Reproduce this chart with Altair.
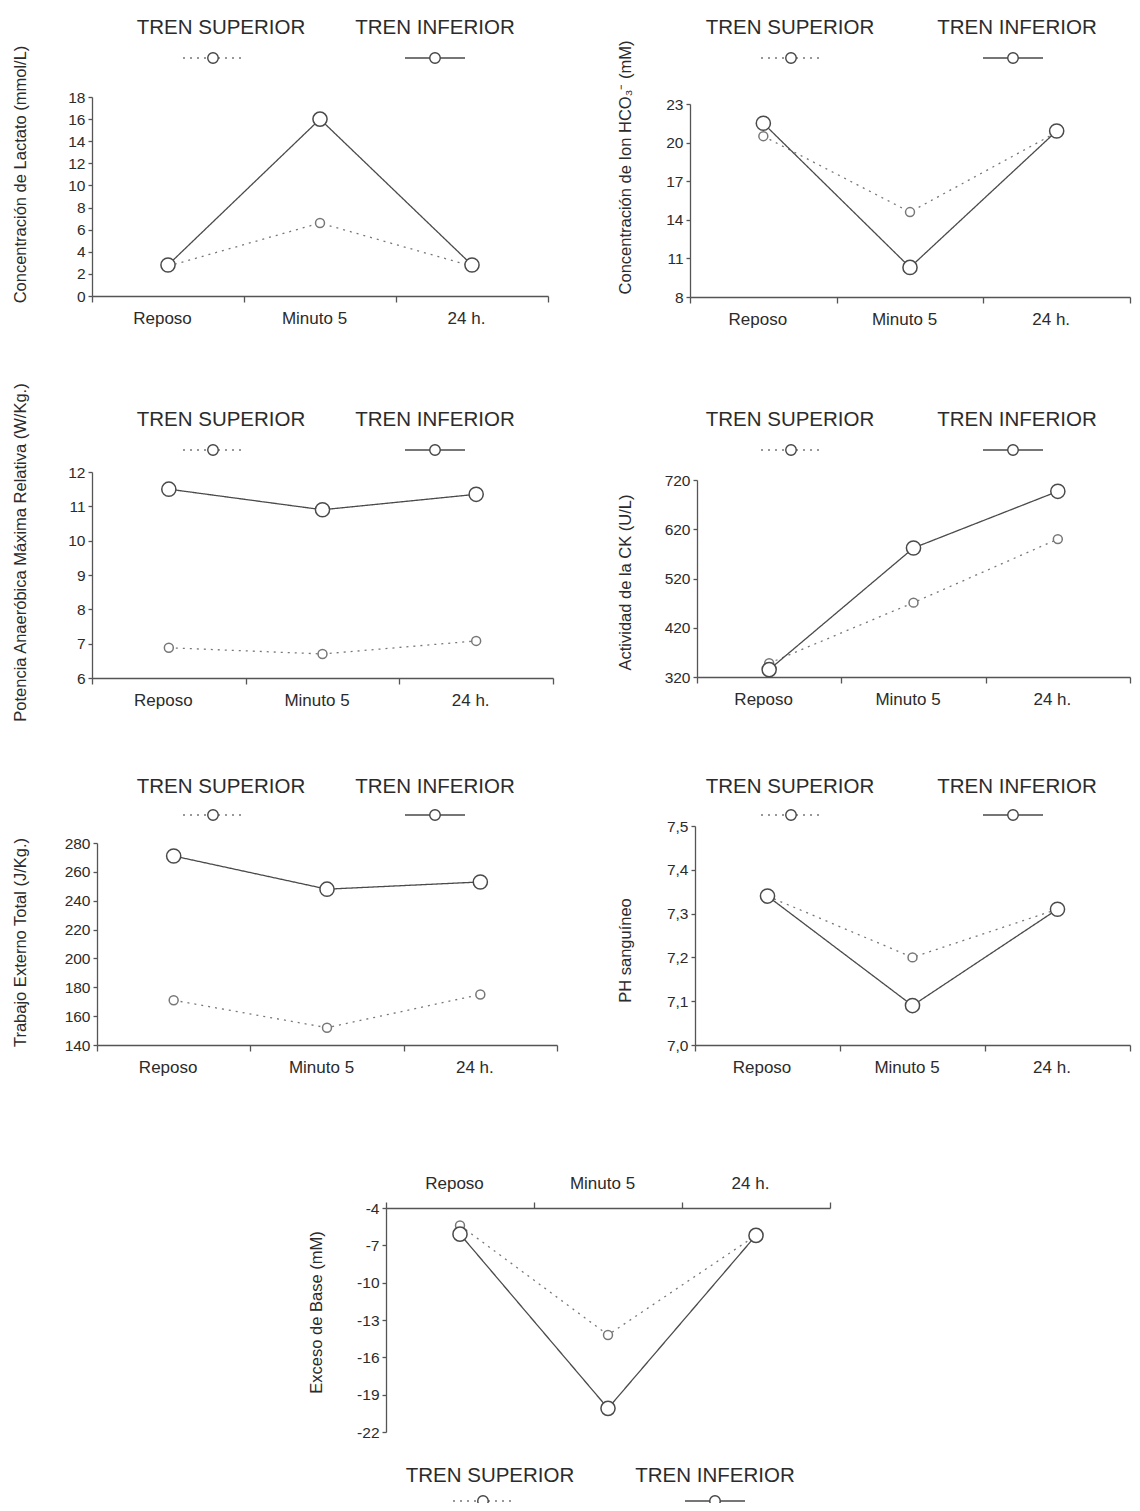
import altair as alt
import pandas as pd

# ---------------- data ----------------
categories = ["Reposo", "Minuto 5", "24 h."]
series_names = ["TREN SUPERIOR", "TREN INFERIOR"]

lactato_sup = [2.7, 6.6, 2.7]
lactato_inf = [2.8, 16.0, 2.8]
lactato_ticks = [0, 2, 4, 6, 8, 10, 12, 14, 16, 18]

hco3_sup = [20.5, 14.6, 20.8]
hco3_inf = [21.5, 10.3, 20.9]
hco3_ticks = [8, 11, 14, 17, 20, 23]

potencia_sup = [6.88, 6.7, 7.08]
potencia_inf = [11.5, 10.9, 11.35]
potencia_ticks = [6, 7, 8, 9, 10, 11, 12]

ck_sup = [348, 471, 600]
ck_inf = [335, 582, 697]
ck_ticks = [320, 420, 520, 620, 720]

trabajo_sup = [171, 152, 175]
trabajo_inf = [271, 248, 253]
trabajo_ticks = [140, 160, 180, 200, 220, 240, 260, 280]

ph_sup = [7.34, 7.20, 7.31]
ph_inf = [7.34, 7.09, 7.31]
ph_ticks = [7.0, 7.1, 7.2, 7.3, 7.4, 7.5]

base_sup = [-5.4, -14.2, -6.2]
base_inf = [-6.1, -20.1, -6.2]
base_ticks = [-4, -7, -10, -13, -16, -19, -22]

titles = [
    "Concentración de Lactato (mmol/L)",
    "Concentración de Ion HCO₃⁻ (mM)",
    "Potencia Anaeróbica Máxima Relativa (W/Kg.)",
    "Actividad de la CK (U/L)",
    "Trabajo Externo Total (J/Kg.)",
    "PH sanguíneo",
    "Exceso de Base (mM)",
]

# ---------------- style / layout ----------------
FONT = "Liberation Sans, Arial, Helvetica, sans-serif"
TEXT = "#2b2b2b"
AXIS = "#555555"
SOLID = "#4a4a4a"
DOTTED = "#777777"
OFF = 8          # page margin
W, H = 1124, 1495

# page coordinates: plot x-extent, y of domain min / max, title centre, legend
layout = [
    dict(x=(92, 548), y=(296, 97), title=(20, 174), leg=(221, 435, 28, 58, 213, 435)),
    dict(x=(690, 1130), y=(297, 104), title=(625, 167), leg=(790, 1017, 28, 58, 791, 1013)),
    dict(x=(92, 553), y=(678, 472), title=(20, 552), leg=(221, 435, 420, 450, 213, 435)),
    dict(x=(697, 1130), y=(677, 480), title=(625, 582), leg=(790, 1017, 420, 450, 791, 1013)),
    dict(x=(97, 557), y=(1045, 843), title=(20, 942), leg=(221, 435, 787, 815, 213, 435)),
    dict(x=(695, 1130), y=(1045, 826), title=(625, 950), leg=(790, 1017, 787, 815, 791, 1013)),
    dict(x=(386, 830), y=(1432, 1208), title=(316, 1312), leg=(490, 715, 1476, 1501, 483, 715), top=True),
]

panels = [
    (lactato_sup, lactato_inf, lactato_ticks, None),
    (hco3_sup, hco3_inf, hco3_ticks, None),
    (potencia_sup, potencia_inf, potencia_ticks, None),
    (ck_sup, ck_inf, ck_ticks, None),
    (trabajo_sup, trabajo_inf, trabajo_ticks, None),
    (ph_sup, ph_inf, ph_ticks, "replace(format(datum.value, '.1f'), '.', ',')"),
    (base_sup, base_inf, base_ticks, "'' + datum.value"),
]


def make_panel(sup, inf, ticks, label_expr, title, lay):
    df = pd.DataFrame({
        "Momento": categories * 2,
        "Serie": [series_names[0]] * 3 + [series_names[1]] * 3,
        "Valor": list(sup) + list(inf),
    })
    x0, x1 = lay["x"][0] - OFF, lay["x"][1] - OFF
    yb, yt = lay["y"][0] - OFF, lay["y"][1] - OFF
    top = lay.get("top", False)
    common_x = dict(title=None, tickBand="extent", labelAngle=0, labelFontSize=17,
                    labelFont=FONT, labelColor=TEXT, domainColor=AXIS, domainWidth=1.3,
                    tickColor=AXIS, tickWidth=1.3, tickSize=6, grid=False, labelOffset=-6)
    if top:
        x_axis = alt.Axis(orient="top", offset=-yt, labelPadding=10, **common_x)
    else:
        x_axis = alt.Axis(orient="bottom", offset=yb - H, labelPadding=8, **common_x)
    tx, ty = lay["title"]
    y_axis_kw = dict(orient="left", offset=-x0, values=ticks, title=title,
                     titleX=tx - OFF - x0, titleY=ty - OFF, titleAngle=270,
                     titleBaseline="middle", titleAlign="center", titleFont=FONT,
                     titleFontSize=16.5, titleFontWeight="normal", titleColor=TEXT,
                     labelFont=FONT, labelFontSize=15.5, labelColor=TEXT, labelPadding=3,
                     domainColor=AXIS, domainWidth=1.3, tickColor=AXIS, tickWidth=1.3,
                     tickSize=4, grid=False)
    if label_expr:
        y_axis_kw["labelExpr"] = label_expr
    x = alt.X("Momento:N",
              scale=alt.Scale(type="band", domain=categories, range=[x0, x1],
                              paddingInner=0, paddingOuter=0),
              axis=x_axis)
    y = alt.Y("Valor:Q",
              scale=alt.Scale(domain=[min(ticks), max(ticks)], range=[yb, yt],
                              nice=False, zero=False),
              axis=alt.Axis(**y_axis_kw))
    dash = alt.StrokeDash("Serie:N", scale=alt.Scale(domain=series_names, range=[[2, 5], [1, 0]]),
                          legend=None)
    col = alt.Stroke("Serie:N", scale=alt.Scale(domain=series_names, range=[DOTTED, SOLID]),
                     legend=None)
    line = alt.Chart(df).mark_line(strokeWidth=1.3).encode(
        x=x, y=y, detail="Serie:N", strokeDash=dash, stroke=col)
    pts = alt.Chart(df).mark_point(shape="circle", filled=True, fill="white", opacity=1,
                                   strokeWidth=1.5).encode(
        x=x, y=y,
        size=alt.Size("Serie:N", scale=alt.Scale(domain=series_names, range=[80, 200]),
                      legend=None),
        stroke=alt.Stroke("Serie:N", scale=alt.Scale(domain=series_names,
                                                     range=["#555555", "#444444"]),
                          legend=None))
    return alt.layer(line, pts)


def make_legend(lay):
    cs, ci, yt, ys, ps, pi = lay["leg"]
    out = []
    for name, cx in zip(series_names, (cs, ci)):
        out.append(alt.Chart(pd.DataFrame({"t": [name]})).mark_text(
            font=FONT, fontSize=20.5, color=TEXT, align="center", baseline="middle").encode(
            x=alt.value(cx - OFF), y=alt.value(yt - OFF), text="t:N"))
    for name, px, dash, colr in ((series_names[0], ps, [2, 5], DOTTED),
                                 (series_names[1], pi, [1, 0], SOLID)):
        d = pd.DataFrame({"t": [name]})
        out.append(alt.Chart(d).mark_rule(strokeDash=dash, color=colr, strokeWidth=1.3).encode(
            x=alt.value(px - 30 - OFF), x2=alt.value(px + 30 - OFF), y=alt.value(ys - OFF)))
        out.append(alt.Chart(d).mark_point(shape="circle", filled=True, fill="white",
                                           stroke="#444444", strokeWidth=1.4, size=110,
                                           opacity=1).encode(
            x=alt.value(px - OFF), y=alt.value(ys - OFF)))
    return out


layers = []
for (sup, inf, ticks, lexpr), title, lay in zip(panels, titles, layout):
    layers.append(make_panel(sup, inf, ticks, lexpr, title, lay))
for lay in layout:
    layers.extend(make_legend(lay))

chart = alt.layer(*layers).resolve_scale(
    x="independent", y="independent"
).properties(
    width=W, height=H, padding=0, background="white",
    autosize=alt.AutoSizeParams(type="none"),
).configure_view(stroke=None)

chart.save("out.html", embed_options={"renderer": "svg", "actions": False})
